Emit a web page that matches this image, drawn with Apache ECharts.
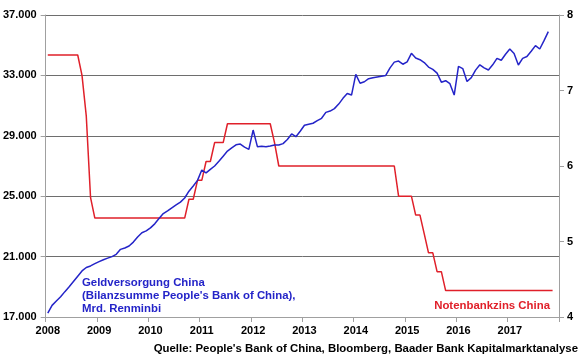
<!DOCTYPE html>
<html>
<head>
<meta charset="utf-8">
<script src="https://cdn.jsdelivr.net/npm/echarts@6/dist/echarts.min.js"></script>
<style>html,body{margin:0;padding:0;background:#fff}#c{width:580px;height:358px}</style>
</head>
<body>
<div id="c"></div>
<script>
// Years shown on the x axis; months Jan 2008 .. Dec 2017 are the categories
var years = [2008, 2009, 2010, 2011, 2012, 2013, 2014, 2015, 2016, 2017];
var leftTicks = [17000, 21000, 25000, 29000, 33000, 37000];
var rightTicks = [4, 5, 6, 7, 8];

// Geldversorgung China (Bilanzsumme PBoC), Mrd. Renminbi, monthly from Jan 2008
var moneySupply = [
  17250, 17770, 18060, 18340, 18680, 19000, 19350, 19700, 20050, 20280, 20380, 20530,
  20670, 20790, 20900, 21000, 21150, 21480, 21570, 21700, 21960, 22300, 22580, 22700,
  22900, 23170, 23520, 23850, 24030, 24230, 24420, 24610, 24880, 25330, 25680, 26050,
  26730, 26540, 26780, 27000, 27310, 27650, 27990, 28200, 28400, 28450, 28250, 28100,
  29380, 28280, 28300, 28280, 28330, 28390, 28390, 28480, 28750, 29120, 28940, 29300,
  29700, 29770, 29830, 30000, 30160, 30550, 30640, 30800, 31100, 31480, 31800, 31700,
  33070, 32480, 32580, 32780, 32850, 32900, 32950, 33000, 33500, 33880, 33950, 33740,
  33900, 34460, 34150, 34040, 33850, 33550, 33400, 33150, 32550, 32650, 32450, 31700,
  33600, 33450, 32600, 32850, 33350, 33700, 33500, 33360, 33700, 34130, 34000, 34400,
  34750, 34450, 33690, 34130, 34250, 34600, 34970, 34750, 35300, 35900
];

// Notenbankzins China (%), monthly from Jan 2008
var policyRate = [
  7.47, 7.47, 7.47, 7.47, 7.47, 7.47, 7.47, 7.47, 7.20, 6.66, 5.58, 5.31,
  5.31, 5.31, 5.31, 5.31, 5.31, 5.31, 5.31, 5.31, 5.31, 5.31, 5.31, 5.31,
  5.31, 5.31, 5.31, 5.31, 5.31, 5.31, 5.31, 5.31, 5.31, 5.56, 5.56, 5.81,
  5.81, 6.06, 6.06, 6.31, 6.31, 6.31, 6.56, 6.56, 6.56, 6.56, 6.56, 6.56,
  6.56, 6.56, 6.56, 6.56, 6.56, 6.31, 6.00, 6.00, 6.00, 6.00, 6.00, 6.00,
  6.00, 6.00, 6.00, 6.00, 6.00, 6.00, 6.00, 6.00, 6.00, 6.00, 6.00, 6.00,
  6.00, 6.00, 6.00, 6.00, 6.00, 6.00, 6.00, 6.00, 6.00, 6.00, 5.60, 5.60,
  5.60, 5.60, 5.35, 5.35, 5.10, 4.85, 4.85, 4.60, 4.60, 4.35, 4.35, 4.35,
  4.35, 4.35, 4.35, 4.35, 4.35, 4.35, 4.35, 4.35, 4.35, 4.35, 4.35, 4.35,
  4.35, 4.35, 4.35, 4.35, 4.35, 4.35, 4.35, 4.35, 4.35, 4.35, 4.35
];

var months = [];
years.forEach(function (y) {
  for (var m = 1; m <= 12; m++) months.push(y + '-' + (m < 10 ? '0' + m : m));
});

var FONT = '"Liberation Sans", Arial, sans-serif';
var BLUE = '#2424c8';
var RED = '#e0202a';
var GRID = '#6e6e6e';
var AX = '#a0a0a0';

function fmtDE(v) {
  return String(v).replace(/\B(?=(\d{3})+(?!\d))/g, '.');
}

var chart = echarts.init(document.getElementById('c'), null, {renderer: 'canvas'});
chart.setOption({
  animation: false,
  backgroundColor: '#ffffff',
  grid: {left: 45, right: 21, top: 15, bottom: 41, containLabel: false},
  xAxis: {
    type: 'category',
    data: months,
    boundaryGap: true,
    axisLine: {show: true, lineStyle: {color: AX, width: 1}},
    axisTick: {
      show: true, length: 5, alignWithLabel: false,
      interval: function (i) { return i % 12 === 0; },
      lineStyle: {color: AX}
    },
    axisLabel: {
      interval: function (i) { return i % 12 === 0; },
      formatter: function (v) { return v.slice(0, 4); },
      color: '#000', fontFamily: FONT, fontWeight: 'bold', fontSize: 11, margin: 8
    },
    splitLine: {show: false}
  },
  yAxis: [
    {
      type: 'value',
      min: leftTicks[0], max: leftTicks[leftTicks.length - 1], interval: 4000,
      axisLine: {show: true, lineStyle: {color: AX}},
      axisTick: {show: true, length: 5, lineStyle: {color: AX}},
      axisLabel: {
        formatter: function (v) { return leftTicks.indexOf(v) >= 0 ? fmtDE(v) : ''; },
        color: '#000', fontFamily: FONT, fontWeight: 'bold', fontSize: 11, margin: 9
      },
      splitLine: {show: true, lineStyle: {color: GRID, width: 1}}
    },
    {
      type: 'value',
      position: 'right',
      min: rightTicks[0], max: rightTicks[rightTicks.length - 1], interval: 1,
      axisLine: {show: true, lineStyle: {color: AX}},
      axisTick: {show: true, length: 5, lineStyle: {color: AX}},
      axisLabel: {
        formatter: function (v) { return rightTicks.indexOf(v) >= 0 ? String(v) : ''; },
        color: '#000', fontFamily: FONT, fontWeight: 'bold', fontSize: 11, margin: 8
      },
      splitLine: {show: false}
    }
  ],
  series: [
    {
      name: 'Geldversorgung China',
      type: 'line',
      yAxisIndex: 0,
      data: moneySupply,
      symbol: 'none',
      smooth: false,
      lineStyle: {color: BLUE, width: 1.5},
      z: 3
    },
    {
      name: 'Notenbankzins China',
      type: 'line',
      yAxisIndex: 1,
      data: policyRate,
      symbol: 'none',
      smooth: false,
      lineStyle: {color: RED, width: 1.5},
      z: 2
    }
  ],
  graphic: [
    {
      type: 'text', left: 82, top: 276,
      style: {
        text: 'Geldversorgung China\n(Bilanzsumme People\'s Bank of China),\nMrd. Renminbi',
        fill: BLUE, font: 'bold 11.4px ' + FONT, lineHeight: 13
      }
    },
    {
      type: 'text', right: 30, top: 300,
      style: {text: 'Notenbankzins China', fill: RED, font: 'bold 11.4px ' + FONT}
    },
    {
      type: 'text', right: 2, top: 343,
      style: {
        text: 'Quelle: People\'s Bank of China, Bloomberg, Baader Bank Kapitalmarktanalyse',
        fill: '#000', font: 'bold 11.4px ' + FONT
      }
    }
  ]
});
</script>
</body>
</html>
